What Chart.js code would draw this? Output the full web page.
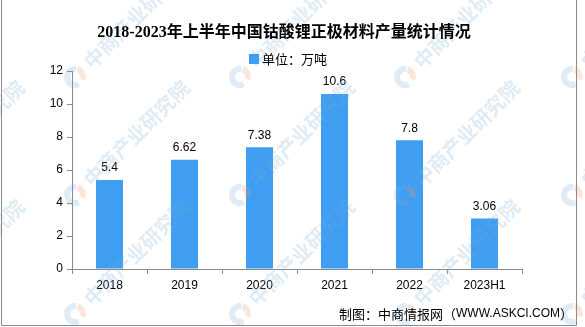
<!DOCTYPE html>
<html>
<head>
<meta charset="utf-8">
<script src="https://cdn.jsdelivr.net/npm/chart.js@4/dist/chart.umd.min.js"></script>
<style>
  html, body { margin: 0; padding: 0; background: #fff; }
  #wrap { width: 585px; height: 327px; position: relative; }
</style>
</head>
<body>
<div id="wrap"><canvas id="c" width="585" height="327"></canvas></div>
<script>
const categories = ['2018', '2019', '2020', '2021', '2022', '2023H1'];
const output = [5.4, 6.62, 7.38, 10.6, 7.8, 3.06];
const yTickValues = [0, 2, 4, 6, 8, 10, 12];

const chartTitle = '2018-2023年上半年中国钴酸锂正极材料产量统计情况';
const unitLabel = '单位：万吨';
const sourcePrefix = '制图：中商情报网（';
const sourceSite = 'WWW.ASKCI.COM';
const sourceSuffix = '）';
const watermarkText = '中商产业研究院';

const BAR_BLUE = '#3f9ef2';
const AXIS_GREY = '#8a8a8a';
const CJK = '"Noto Sans CJK SC"';

// Title, unit legend, source line and frame
const decorPlugin = {
  id: 'decor',
  afterDraw(chart) {
    const ctx = chart.ctx;
    ctx.save();
    ctx.fillStyle = '#000';
    ctx.textBaseline = 'middle';

    ctx.font = 'bold 16px "Liberation Serif", ' + CJK;
    ctx.textAlign = 'center';
    ctx.fillText(chartTitle, 284, 33);

    ctx.fillStyle = BAR_BLUE;
    ctx.fillRect(249, 54, 10, 10);
    ctx.fillStyle = '#000';
    ctx.font = '13px ' + CJK;
    ctx.textAlign = 'left';
    ctx.fillText(unitLabel, 262, 59);

    // source line: CJK parts at 13px, site address slightly narrower
    ctx.textAlign = 'left';
    const cjkFont = '13px ' + CJK;
    const siteFont = '12px "Liberation Sans"';
    ctx.font = cjkFont;
    const w1 = ctx.measureText(sourcePrefix).width;
    const w3 = ctx.measureText(sourceSuffix).width;
    ctx.font = siteFont;
    const w2 = ctx.measureText(sourceSite).width;
    let x = 573 - (w1 + w2 + w3);
    ctx.font = cjkFont;
    ctx.fillText(sourcePrefix, x, 314);
    x += w1;
    ctx.font = siteFont;
    ctx.fillText(sourceSite, x, 314);
    x += w2;
    ctx.font = cjkFont;
    ctx.fillText(sourceSuffix, x, 314);

    ctx.strokeStyle = AXIS_GREY;
    ctx.lineWidth = 1;
    ctx.beginPath();
    ctx.moveTo(1.5, 0);
    ctx.lineTo(1.5, 325.5);
    ctx.lineTo(576.5, 325.5);
    ctx.lineTo(576.5, 0);
    ctx.stroke();
    ctx.restore();
  }
};

// Value labels above each bar
const valueLabelPlugin = {
  id: 'valueLabels',
  afterDatasetsDraw(chart) {
    const ctx = chart.ctx;
    const meta = chart.getDatasetMeta(0);
    ctx.save();
    ctx.font = '12px "Liberation Sans"';
    ctx.fillStyle = '#000';
    ctx.textAlign = 'center';
    ctx.textBaseline = 'bottom';
    meta.data.forEach((bar, i) => {
      ctx.fillText(String(chart.data.datasets[0].data[i]), bar.x, bar.y - 6);
    });
    ctx.restore();
  }
};

// Faint diagonal publisher watermark
const watermarkPlugin = {
  id: 'watermark',
  afterDraw(chart) {
    const ctx = chart.ctx;
    const cols = [-90, 75, 240, 405, 572];
    const rows = [77, 195, 314];
    ctx.save();
    rows.forEach(y => {
      cols.forEach(x => {
        // logo ring
        ctx.lineWidth = 6;
        ctx.strokeStyle = 'rgba(120,170,215,0.24)';
        ctx.beginPath();
        ctx.arc(x, y, 8, Math.PI * 0.35, Math.PI * 1.55);
        ctx.stroke();
        ctx.strokeStyle = 'rgba(240,150,110,0.24)';
        ctx.beginPath();
        ctx.arc(x, y, 8, Math.PI * 1.6, Math.PI * 2.1);
        ctx.stroke();
        // text
        ctx.save();
        ctx.translate(x, y);
        ctx.rotate(-Math.PI / 4);
        ctx.font = 'bold 20px ' + CJK;
        ctx.fillStyle = 'rgba(120,170,215,0.24)';
        ctx.textAlign = 'left';
        ctx.textBaseline = 'middle';
        ctx.fillText(watermarkText, 17, 0);
        ctx.restore();
      });
    });
    ctx.restore();
  }
};

new Chart(document.getElementById('c'), {
  type: 'bar',
  data: {
    labels: categories,
    datasets: [{
      data: output,
      backgroundColor: BAR_BLUE,
      borderWidth: 0,
      categoryPercentage: 1,
      barPercentage: 0.36
    }]
  },
  options: {
    responsive: false,
    animation: false,
    devicePixelRatio: 1,
    layout: { padding: { left: 0, right: 63, top: 71, bottom: 30 } },
    plugins: {
      legend: { display: false },
      title: { display: false },
      tooltip: { enabled: false }
    },
    scales: {
      x: {
        grid: {
          display: true,
          drawOnChartArea: false,
          drawTicks: true,
          tickLength: 5,
          color: AXIS_GREY,
          offset: true
        },
        border: { display: true, color: AXIS_GREY, width: 1 },
        ticks: {
          color: '#000',
          font: { family: '"Liberation Sans"', size: 12 },
          padding: 4,
          maxRotation: 0
        },
        afterFit(scale) { scale.height = 28; }
      },
      y: {
        min: 0,
        max: 12,
        afterBuildTicks(scale) {
          scale.ticks = yTickValues.map(v => ({ value: v }));
        },
        grid: {
          display: true,
          drawOnChartArea: false,
          drawTicks: true,
          tickLength: 5,
          color: AXIS_GREY
        },
        border: { display: true, color: AXIS_GREY, width: 1 },
        ticks: {
          color: '#000',
          font: { family: '"Liberation Sans"', size: 12 },
          padding: 4
        },
        afterFit(scale) { scale.width = 72; }
      }
    }
  },
  plugins: [valueLabelPlugin, watermarkPlugin, decorPlugin]
});
</script>
</body>
</html>
